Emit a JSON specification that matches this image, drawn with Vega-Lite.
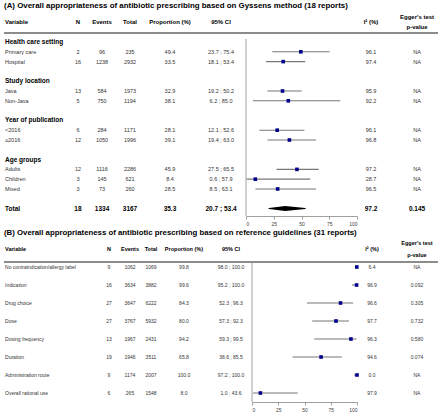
{
  "$schema": "https://vega.github.io/schema/vega-lite/v6.json",
  "padding": 0,
  "background": "white",
  "bounds": "flush",
  "spacing": 10,
  "config": {"view": {"stroke": null}, "font": "Liberation Sans"},
  "datasets": {
    "A": [
      {"row": -3.67, "type": "title", "var": "(A) Overall appropriateness of antibiotic prescribing based on Gyssens method (18 reports)"},
      {"row": -2, "type": "header", "var": "Variable", "n": "N", "ev": "Events", "tot": "Total", "prop": "Proportion (%)", "ci": "95% CI", "i2": "I² (%)", "egger": "Egger's test\np-value"},
      {"row": 0, "type": "group", "var": "Health care setting"},
      {"row": 1, "type": "item", "var": "Primary care", "n": "2", "ev": "96", "tot": "235", "prop": "49.4", "ci": "23.7 ; 75.4", "i2": "96.1", "egger": "NA", "est": 49.4, "lo": 23.7, "hi": 75.4},
      {"row": 2, "type": "item", "var": "Hospital", "n": "16", "ev": "1238", "tot": "2932", "prop": "33.5", "ci": "18.1 ; 53.4", "i2": "97.4", "egger": "NA", "est": 33.5, "lo": 18.1, "hi": 53.4},
      {"row": 4, "type": "group", "var": "Study location"},
      {"row": 5, "type": "item", "var": "Java", "n": "13", "ev": "584", "tot": "1973", "prop": "32.9", "ci": "19.2 ; 50.2", "i2": "95.9", "egger": "NA", "est": 32.9, "lo": 19.2, "hi": 50.2},
      {"row": 6, "type": "item", "var": "Non-Java", "n": "5", "ev": "750", "tot": "1194", "prop": "38.1", "ci": "6.2 ; 85.0", "i2": "92.2", "egger": "NA", "est": 38.1, "lo": 6.2, "hi": 85.0},
      {"row": 8, "type": "group", "var": "Year of publication"},
      {"row": 9, "type": "item", "var": "<2016", "n": "6", "ev": "284", "tot": "1171", "prop": "28.1", "ci": "12.1 ; 52.6", "i2": "96.1", "egger": "NA", "est": 28.1, "lo": 12.1, "hi": 52.6},
      {"row": 10, "type": "item", "var": "≥2016", "n": "12", "ev": "1050", "tot": "1996", "prop": "39.1", "ci": "19.4 ; 63.0", "i2": "96.8", "egger": "NA", "est": 39.1, "lo": 19.4, "hi": 63.0},
      {"row": 12, "type": "group", "var": "Age groups"},
      {"row": 13, "type": "item", "var": "Adults", "n": "12", "ev": "1116", "tot": "2286", "prop": "45.9", "ci": "27.5 ; 65.5", "i2": "97.2", "egger": "NA", "est": 45.9, "lo": 27.5, "hi": 65.5},
      {"row": 14, "type": "item", "var": "Children", "n": "3", "ev": "145", "tot": "621", "prop": "8.4", "ci": "0.6 ; 57.9", "i2": "28.7", "egger": "NA", "est": 8.4, "lo": 0.6, "hi": 57.9},
      {"row": 15, "type": "item", "var": "Mixed", "n": "3", "ev": "73", "tot": "260", "prop": "28.5", "ci": "8.5 ; 63.1", "i2": "96.5", "egger": "NA", "est": 28.5, "lo": 8.5, "hi": 63.1},
      {"row": 17, "type": "total", "var": "Total", "n": "18", "ev": "1334", "tot": "3167", "prop": "35.3", "ci": "20.7 ; 53.4", "i2": "97.2", "egger": "0.145", "est": 35.3, "lo": 20.7, "hi": 53.4}
    ],
    "B": [
      {"row": -1.89, "type": "title", "var": "(B) Overall appropriateness of antibiotic prescribing based on reference guidelines (31 reports)"},
      {"row": -1, "type": "header", "var": "Variable", "n": "N", "ev": "Events", "tot": "Total", "prop": "Proportion (%)", "ci": "95% CI", "i2": "I² (%)", "egger": "Egger's test\np-value"},
      {"row": 0, "type": "item", "var": "No contraindication/allergy label", "n": "9", "ev": "1062", "tot": "1069", "prop": "99.8", "ci": "98.0 ; 100.0", "i2": "6.4", "egger": "NA", "est": 99.8, "lo": 98.0, "hi": 100.0},
      {"row": 1, "type": "item", "var": "Indication", "n": "16", "ev": "3634", "tot": "3882", "prop": "99.6", "ci": "95.2 ; 100.0", "i2": "96.9", "egger": "0.092", "est": 99.6, "lo": 95.2, "hi": 100.0},
      {"row": 2, "type": "item", "var": "Drug choice", "n": "27", "ev": "3647", "tot": "6222", "prop": "84.3", "ci": "52.3 ; 96.3", "i2": "96.6", "egger": "0.305", "est": 84.3, "lo": 52.3, "hi": 96.3},
      {"row": 3, "type": "item", "var": "Dose", "n": "27", "ev": "3767", "tot": "5932", "prop": "80.0", "ci": "57.3 ; 92.3", "i2": "97.7", "egger": "0.732", "est": 80.0, "lo": 57.3, "hi": 92.3},
      {"row": 4, "type": "item", "var": "Dosing frequency", "n": "13", "ev": "1967", "tot": "2431", "prop": "94.2", "ci": "59.3 ; 99.5", "i2": "96.3", "egger": "0.580", "est": 94.2, "lo": 59.3, "hi": 99.5},
      {"row": 5, "type": "item", "var": "Duration", "n": "19", "ev": "1946", "tot": "3511", "prop": "65.8", "ci": "38.6 ; 85.5", "i2": "94.6", "egger": "0.074", "est": 65.8, "lo": 38.6, "hi": 85.5},
      {"row": 6, "type": "item", "var": "Administration route", "n": "9", "ev": "1174", "tot": "2007", "prop": "100.0", "ci": "97.2 ; 100.0", "i2": "0.0", "egger": "NA", "est": 100.0, "lo": 97.2, "hi": 100.0},
      {"row": 7, "type": "item", "var": "Overall rational use", "n": "6", "ev": "265", "tot": "1548", "prop": "8.0", "ci": "1.0 ; 43.6", "i2": "97.9", "egger": "NA", "est": 8.0, "lo": 1.0, "hi": 43.6}
    ],
    "grid": [{"g": 25}, {"g": 50}, {"g": 75}, {"g": 100}]
  },
  "vconcat": [
    {
      "width": 440,
      "height": 216,
      "data": {"name": "A"},
      "encoding": {"y": {"field": "row", "type": "quantitative", "scale": {"domain": [-4.29, 17.76], "reverse": true}, "axis": null}},
      "layer": [
        {"transform": [{"filter": "datum.type === 'title'"}],
         "mark": {"type": "text", "align": "left", "baseline": "middle", "fontWeight": "bold", "fontSize": 7.9, "color": "#000"},
         "encoding": {"x": {"datum": -218}, "text": {"field": "var"}}},
        {"transform": [{"filter": "datum.type === 'header'"}],
         "mark": {"type": "rule", "color": "#8c8c8c", "strokeWidth": 2},
         "encoding": {"x": {"datum": -218}, "x2": {"datum": 173}, "y": {"datum": -0.92}}},
        {"data": {"name": "grid"},
         "mark": {"type": "rule", "color": "#e6e6e6", "strokeWidth": 0.8},
         "encoding": {"x": {"field": "g", "type": "quantitative"}, "y": {"datum": -0.3}, "y2": {"datum": 17.76}}},
        {"transform": [{"filter": "datum.type === 'header'"}],
         "mark": {"type": "rule", "color": "#a0a0a0", "strokeWidth": 1},
         "encoding": {"x": {"datum": 0}, "y": {"datum": -0.3}, "y2": {"datum": 17.76}}},
        {"transform": [{"filter": "datum.type === 'item'"}],
         "mark": {"type": "rule", "color": "#777777", "strokeWidth": 1.1},
         "encoding": {
           "x": {"field": "lo", "type": "quantitative", "scale": {"domain": [0, 100], "range": [246, 357]},
                 "axis": {"values": [0, 25, 50, 75, 100], "title": null, "grid": false, "labelFontSize": 5, "labelColor": "#444", "tickSize": 3, "tickColor": "#888", "domainColor": "#888", "labelPadding": 2, "domainWidth": 0.8, "tickWidth": 0.8}},
           "x2": {"field": "hi"}}},
        {"transform": [{"filter": "datum.type === 'item'"}],
         "mark": {"type": "point", "shape": "square", "filled": true, "color": "#00008B", "size": 13, "opacity": 1},
         "encoding": {"x": {"field": "est", "type": "quantitative"}}},
        {"transform": [{"filter": "datum.type === 'total'"}, {"fold": ["lo", "est", "hi"], "as": ["part", "v"]}],
         "mark": {"type": "trail", "color": "#000"},
         "encoding": {
           "x": {"field": "v", "type": "quantitative"},
           "size": {"field": "v", "type": "quantitative", "scale": {"type": "quantile", "range": [0, 5, 0]}, "legend": null},
           "order": {"field": "v", "type": "quantitative"}}},
        {"transform": [{"filter": "datum.type !== 'title'"}],
         "mark": {"type": "text", "align": "left", "baseline": "middle", "fontWeight": {"expr": "datum.type === 'item' ? 'normal' : 'bold'"}, "fontSize": {"expr": "datum.type === 'item' ? 5.5 : datum.type === 'header' ? 6 : 6.5"}, "color": {"expr": "datum.type === 'item' ? '#333' : '#000'"}},
         "encoding": {"x": {"datum": -217.1}, "text": {"field": "var"}}},
        {"transform": [{"filter": "isValid(datum.n)"}],
         "mark": {"type": "text", "align": "center", "baseline": "middle", "fontWeight": {"expr": "datum.type === 'item' ? 'normal' : 'bold'"}, "fontSize": {"expr": "datum.type === 'item' ? 5.5 : datum.type === 'header' ? 6 : 6.5"}, "color": {"expr": "datum.type === 'item' ? '#333' : '#000'"}},
         "encoding": {"x": {"datum": -151.4}, "text": {"field": "n"}}},
        {"transform": [{"filter": "isValid(datum.ev)"}],
         "mark": {"type": "text", "align": "center", "baseline": "middle", "fontWeight": {"expr": "datum.type === 'item' ? 'normal' : 'bold'"}, "fontSize": {"expr": "datum.type === 'item' ? 5.5 : datum.type === 'header' ? 6 : 6.5"}, "color": {"expr": "datum.type === 'item' ? '#333' : '#000'"}},
         "encoding": {"x": {"datum": -129.7}, "text": {"field": "ev"}}},
        {"transform": [{"filter": "isValid(datum.tot)"}],
         "mark": {"type": "text", "align": "center", "baseline": "middle", "fontWeight": {"expr": "datum.type === 'item' ? 'normal' : 'bold'"}, "fontSize": {"expr": "datum.type === 'item' ? 5.5 : datum.type === 'header' ? 6 : 6.5"}, "color": {"expr": "datum.type === 'item' ? '#333' : '#000'"}},
         "encoding": {"x": {"datum": -104.5}, "text": {"field": "tot"}}},
        {"transform": [{"filter": "isValid(datum.prop)"}],
         "mark": {"type": "text", "align": "center", "baseline": "middle", "fontWeight": {"expr": "datum.type === 'item' ? 'normal' : 'bold'"}, "fontSize": {"expr": "datum.type === 'item' ? 5.5 : datum.type === 'header' ? 6 : 6.5"}, "color": {"expr": "datum.type === 'item' ? '#333' : '#000'"}},
         "encoding": {"x": {"datum": -68.5}, "text": {"field": "prop"}}},
        {"transform": [{"filter": "isValid(datum.ci)"}],
         "mark": {"type": "text", "align": "center", "baseline": "middle", "fontWeight": {"expr": "datum.type === 'item' ? 'normal' : 'bold'"}, "fontSize": {"expr": "datum.type === 'item' ? 5.5 : datum.type === 'header' ? 6 : 6.5"}, "color": {"expr": "datum.type === 'item' ? '#333' : '#000'"}},
         "encoding": {"x": {"datum": -22.5}, "text": {"field": "ci"}}},
        {"transform": [{"filter": "isValid(datum.i2)"}],
         "mark": {"type": "text", "align": "center", "baseline": "middle", "fontWeight": {"expr": "datum.type === 'item' ? 'normal' : 'bold'"}, "fontSize": {"expr": "datum.type === 'item' ? 5.5 : datum.type === 'header' ? 6 : 6.5"}, "color": {"expr": "datum.type === 'item' ? '#333' : '#000'"}},
         "encoding": {"x": {"datum": 112.6}, "text": {"field": "i2"}}},
        {"transform": [{"filter": "isValid(datum.egger)"}],
         "mark": {"type": "text", "align": "center", "baseline": "middle", "lineBreak": "\n", "lineHeight": 10, "dy": {"expr": "datum.type === 'header' ? -5 : 0"}, "fontWeight": {"expr": "datum.type === 'item' ? 'normal' : 'bold'"}, "fontSize": {"expr": "datum.type === 'item' ? 5.5 : datum.type === 'header' ? 6 : 6.5"}, "color": {"expr": "datum.type === 'item' ? '#333' : '#000'"}},
         "encoding": {"x": {"datum": 154.1}, "text": {"field": "egger"}}}
      ]
    },
    {
      "width": 440,
      "height": 176,
      "data": {"name": "B"},
      "encoding": {"y": {"field": "row", "type": "quantitative", "scale": {"domain": [-2.278, 7.5], "reverse": true}, "axis": null}},
      "layer": [
        {"transform": [{"filter": "datum.type === 'title'"}],
         "mark": {"type": "text", "align": "left", "baseline": "middle", "fontWeight": "bold", "fontSize": 7.8, "color": "#000"},
         "encoding": {"x": {"datum": -236.2}, "text": {"field": "var"}}},
        {"transform": [{"filter": "datum.type === 'header'"}],
         "mark": {"type": "rule", "color": "#8c8c8c", "strokeWidth": 2},
         "encoding": {"x": {"datum": -236.2}, "x2": {"datum": 177.1}, "y": {"datum": -0.28}}},
        {"data": {"name": "grid"},
         "mark": {"type": "rule", "color": "#e6e6e6", "strokeWidth": 0.8},
         "encoding": {"x": {"field": "g", "type": "quantitative"}, "y": {"datum": -0.22}, "y2": {"datum": 7.5}}},
        {"transform": [{"filter": "datum.type === 'header'"}],
         "mark": {"type": "rule", "color": "#a0a0a0", "strokeWidth": 1},
         "encoding": {"x": {"datum": 0}, "y": {"datum": -0.22}, "y2": {"datum": 7.5}}},
        {"transform": [{"filter": "datum.type === 'item'"}],
         "mark": {"type": "rule", "color": "#777777", "strokeWidth": 1.1},
         "encoding": {
           "x": {"field": "lo", "type": "quantitative", "scale": {"domain": [0, 100], "range": [252, 357]},
                 "axis": {"values": [0, 25, 50, 75, 100], "title": null, "grid": false, "labelFontSize": 5, "labelColor": "#444", "tickSize": 3, "tickColor": "#888", "domainColor": "#888", "labelPadding": 2, "domainWidth": 0.8, "tickWidth": 0.8}},
           "x2": {"field": "hi"}}},
        {"transform": [{"filter": "datum.type === 'item'"}],
         "mark": {"type": "point", "shape": "square", "filled": true, "color": "#00008B", "size": 13, "opacity": 1},
         "encoding": {"x": {"field": "est", "type": "quantitative"}}},
        {"transform": [{"filter": "datum.type !== 'title'"}],
         "mark": {"type": "text", "align": "left", "baseline": "middle", "fontWeight": {"expr": "datum.type === 'item' ? 'normal' : 'bold'"}, "fontSize": {"expr": "datum.type === 'item' ? 5 : 5.5"}, "color": {"expr": "datum.type === 'item' ? '#333' : '#000'"}},
         "encoding": {"x": {"datum": -235.2}, "text": {"field": "var"}}},
        {"transform": [{"filter": "isValid(datum.n)"}],
         "mark": {"type": "text", "align": "center", "baseline": "middle", "fontWeight": {"expr": "datum.type === 'item' ? 'normal' : 'bold'"}, "fontSize": {"expr": "datum.type === 'item' ? 5 : 5.5"}, "color": {"expr": "datum.type === 'item' ? '#333' : '#000'"}},
         "encoding": {"x": {"datum": -136.2}, "text": {"field": "n"}}},
        {"transform": [{"filter": "isValid(datum.ev)"}],
         "mark": {"type": "text", "align": "center", "baseline": "middle", "fontWeight": {"expr": "datum.type === 'item' ? 'normal' : 'bold'"}, "fontSize": {"expr": "datum.type === 'item' ? 5 : 5.5"}, "color": {"expr": "datum.type === 'item' ? '#333' : '#000'"}},
         "encoding": {"x": {"datum": -116.2}, "text": {"field": "ev"}}},
        {"transform": [{"filter": "isValid(datum.tot)"}],
         "mark": {"type": "text", "align": "center", "baseline": "middle", "fontWeight": {"expr": "datum.type === 'item' ? 'normal' : 'bold'"}, "fontSize": {"expr": "datum.type === 'item' ? 5 : 5.5"}, "color": {"expr": "datum.type === 'item' ? '#333' : '#000'"}},
         "encoding": {"x": {"datum": -96.2}, "text": {"field": "tot"}}},
        {"transform": [{"filter": "isValid(datum.prop)"}],
         "mark": {"type": "text", "align": "center", "baseline": "middle", "fontWeight": {"expr": "datum.type === 'item' ? 'normal' : 'bold'"}, "fontSize": {"expr": "datum.type === 'item' ? 5 : 5.5"}, "color": {"expr": "datum.type === 'item' ? '#333' : '#000'"}},
         "encoding": {"x": {"datum": -64.8}, "text": {"field": "prop"}}},
        {"transform": [{"filter": "isValid(datum.ci)"}],
         "mark": {"type": "text", "align": "center", "baseline": "middle", "fontWeight": {"expr": "datum.type === 'item' ? 'normal' : 'bold'"}, "fontSize": {"expr": "datum.type === 'item' ? 5 : 5.5"}, "color": {"expr": "datum.type === 'item' ? '#333' : '#000'"}},
         "encoding": {"x": {"datum": -20}, "text": {"field": "ci"}}},
        {"transform": [{"filter": "isValid(datum.i2)"}],
         "mark": {"type": "text", "align": "center", "baseline": "middle", "fontWeight": {"expr": "datum.type === 'item' ? 'normal' : 'bold'"}, "fontSize": {"expr": "datum.type === 'item' ? 5 : 5.5"}, "color": {"expr": "datum.type === 'item' ? '#333' : '#000'"}},
         "encoding": {"x": {"datum": 114.3}, "text": {"field": "i2"}}},
        {"transform": [{"filter": "isValid(datum.egger)"}],
         "mark": {"type": "text", "align": "center", "baseline": "middle", "lineBreak": "\n", "lineHeight": 12, "dy": {"expr": "datum.type === 'header' ? -6 : 0"}, "fontWeight": {"expr": "datum.type === 'item' ? 'normal' : 'bold'"}, "fontSize": {"expr": "datum.type === 'item' ? 5 : 5.5"}, "color": {"expr": "datum.type === 'item' ? '#333' : '#000'"}},
         "encoding": {"x": {"datum": 157.1}, "text": {"field": "egger"}}}
      ]
    }
  ]
}
